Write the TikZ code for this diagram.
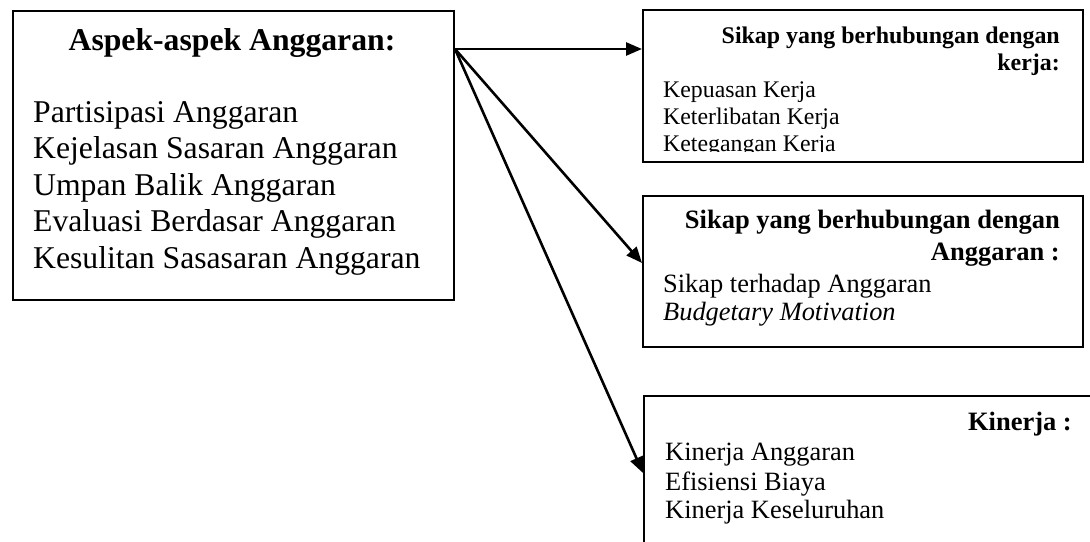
\documentclass[tikz,border=0pt]{standalone}
\usepackage{fontspec}
\setmainfont{Liberation Serif}
\usetikzlibrary{arrows.meta}
\begin{document}
\begin{tikzpicture}[x=1pt,y=-1pt,
  box/.style={draw, line width=2pt, inner sep=0pt, rectangle},
  conn/.style={line width=2.6pt, -{Triangle[length=16pt,width=13pt]}},
  bigh/.style={inner sep=0pt, font=\fontsize{31.7}{36}\selectfont\bfseries},
  big/.style={inner sep=0pt, font=\fontsize{31.7}{36}\selectfont},
  smh/.style={inner sep=0pt, font=\fontsize{23.9}{26}\selectfont\bfseries},
  sm/.style={inner sep=0pt, font=\fontsize{23.8}{26}\selectfont},
  midh/.style={inner sep=0pt, font=\fontsize{26.5}{29}\selectfont\bfseries},
  mid/.style={inner sep=0pt, font=\fontsize{26.4}{29}\selectfont}]
\useasboundingbox (0,0) rectangle (1090,541);
\clip (0,0) rectangle (1090,541);
% boxes
\node[box, minimum width=441pt, minimum height=289pt, anchor=north west] (aspek) at (12,10) {};
\node[box, minimum width=440pt, minimum height=152pt, anchor=north west] (kerja) at (642,9) {};
\node[box, minimum width=440pt, minimum height=151pt, anchor=north west] (angg) at (642,195) {};
\node[box, minimum width=500pt, minimum height=200pt, anchor=north west] (kin) at (643,395) {};
% left box text
\node[bigh, anchor=base] (t0) at (232,50) {Aspek-aspek Anggaran:};
\node[big, anchor=base west] (t1) at (33,122) {Partisipasi Anggaran};
\node[big, anchor=base west] (t2) at (33,158.5) {Kejelasan Sasaran Anggaran};
\node[big, anchor=base west] (t3) at (33,195) {Umpan Balik Anggaran};
\node[big, anchor=base west] (t4) at (33,231.5) {Evaluasi Berdasar Anggaran};
\node[big, anchor=base west] (t5) at (33,268) {Kesulitan Sasasaran Anggaran};
% box 1 text
\node[smh, anchor=base east] (k0) at (1060,43) {Sikap yang berhubungan dengan};
\node[smh, anchor=base east] (k1) at (1060,70) {kerja:};
\node[sm, anchor=base west] (k2) at (663,97) {Kepuasan Kerja};
\node[sm, anchor=base west] (k3) at (663,124) {Keterlibatan Kerja};
\begin{scope}
\clip (645,100) rectangle (1080,151.5);
\node[sm, anchor=base west] (k4) at (663,151) {Ketegangan Kerja};
\end{scope}
% box 2 text
\node[midh, anchor=base east] (a0) at (1060,228) {Sikap yang berhubungan dengan};
\node[midh, anchor=base east] (a1) at (1060,260) {Anggaran :};
\node[mid, anchor=base west] (a2) at (663,292) {Sikap terhadap Anggaran};
\node[mid, anchor=base west] (a3) at (663,320) {\itshape Budgetary Motivation};
% box 3 text
\node[midh, anchor=base east] (n0) at (1072,430) {Kinerja :};
\node[mid, anchor=base west] (n1) at (665,460) {Kinerja Anggaran};
\node[mid, anchor=base west] (n2) at (665,490) {Efisiensi Biaya};
\node[mid, anchor=base west] (n3) at (665,518) {Kinerja Keseluruhan};
% connectors
\coordinate (src) at (aspek.east |- 0,49);
\coordinate (e1) at (kerja.west |- 0,49);
\coordinate (e2) at (angg.west |- 0,263);
\coordinate (e3) at (kin.west |- 0,473);
\draw[conn] (src) -- (e1);
\draw[conn] (src) -- (e2);
\draw[conn] (src) -- (e3);
\end{tikzpicture}
\end{document}
